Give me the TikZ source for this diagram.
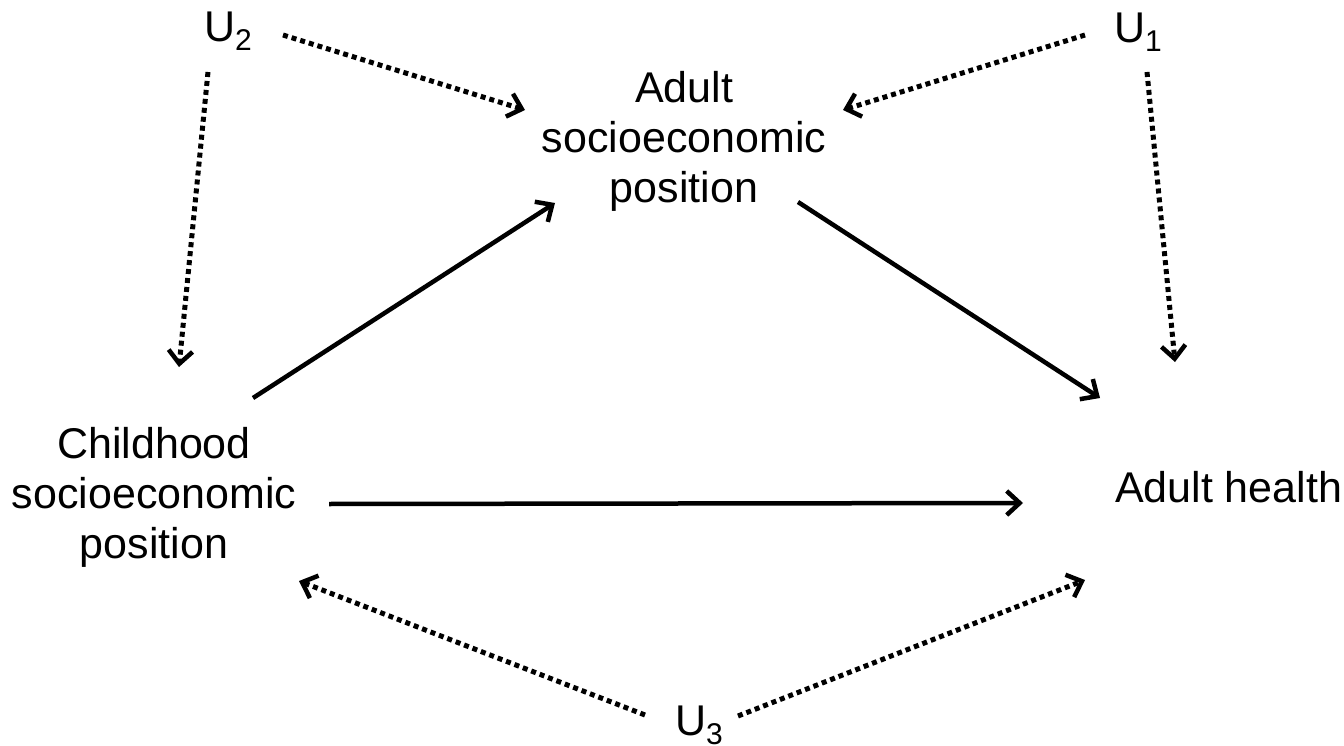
\documentclass[tikz,border=0pt]{standalone}
\usepackage{fontspec}
\setmainfont{Liberation Sans}
\usetikzlibrary{arrows.meta,calc}
\newcommand\usub[1]{\raisebox{-9pt}{\fontsize{30}{30}\selectfont #1}}
\begin{document}
\begin{tikzpicture}[x=1pt,y=-1pt,
  lbl/.style={inner sep=0pt,outer sep=0pt,font=\fontsize{43}{50}\selectfont},
  solidarrow/.style={line width=4.5pt,-{Straight Barb[length=13pt,width=24pt]}},
  dotarrow/.style={line width=5pt,dash pattern=on 5pt off 4pt,-{Straight Barb[length=13pt,width=24pt,line width=4.5pt]}}]
\useasboundingbox (0,0) rectangle (1344,746);
\node[lbl,anchor=base west] (u2) at (204,42) {U\usub{2}};
\node[lbl,anchor=base west] (u1) at (1114,43) {U\usub{1}};
\node[lbl,anchor=base west] (u3) at (675,735) {U\usub{3}};
\node[lbl,anchor=north,align=center] (asep) at (684,71) {Adult\\socioeconomic\\position};
\node[lbl,anchor=north,align=center] (csep) at (154,427) {Childhood\\socioeconomic\\position};
\node[lbl,anchor=base west] (ah) at (1115,502) {Adult health};
% dotted
\draw[dotarrow] ($(u2.base west)+(79,-7)$) -- ($(asep.north)+(-159,39)$);
\draw[dotarrow] ($(u2.base west)+(4,30)$) -- ($(csep.north)+(25,-60)$);
\draw[dotarrow] ($(u1.base west)+(-29,-8)$) -- ($(asep.north)+(159,39)$);
\draw[dotarrow] ($(u1.base west)+(33,29)$) -- ($(ah.base west)+(60,-140)$);
\draw[dotarrow] ($(u3.base west)+(-30,-20)$) -- ($(csep.north)+(145,154)$);
\draw[dotarrow] ($(u3.base west)+(63,-19)$) -- ($(ah.base west)+(-30,78)$);
% solid
\draw[solidarrow] ($(csep.north)+(99,-29)$) -- ($(asep.north)+(-129,132)$);
\draw[solidarrow] ($(asep.north)+(114,131)$) -- ($(ah.base west)+(-15,-104)$);
\draw[solidarrow] ($(csep.north)+(175,77)$) -- ($(ah.base west)+(-92,1)$);
\end{tikzpicture}
\end{document}
